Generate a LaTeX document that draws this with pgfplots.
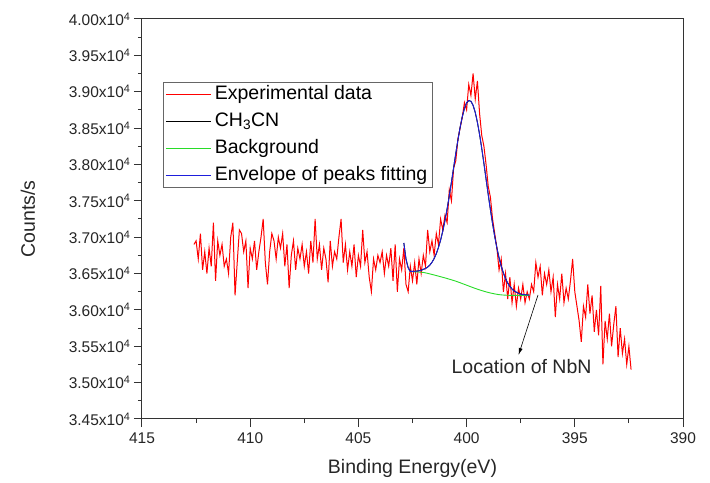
\documentclass[border=0pt]{standalone}
\usepackage{fontspec}
\setmainfont{Liberation Sans}
\usepackage{pgfplots}
\usepackage{pgfplotstable}
\pgfplotsset{compat=1.18}
\usetikzlibrary{arrows.meta}

\definecolor{expred}{RGB}{255,0,0}
\definecolor{bggreen}{RGB}{40,220,40}
\definecolor{envblue}{RGB}{30,30,220}

\pgfplotstableread{
x y
412.6 36900
412.5 36950
412.4 36700
412.3 37050
412.2 36550
412.1 36800
412.0 36500
411.9 36850
411.8 36600
411.7 37200
411.6 36400
411.5 36950
411.4 36750
411.3 36900
411.2 36600
411.1 36700
411.0 36500
410.9 37000
410.8 37200
410.7 36200
410.6 36650
410.5 37100
410.4 37050
410.3 36800
410.2 36950
410.1 36300
410.0 36850
409.9 36700
409.8 36950
409.7 36550
409.6 36800
409.5 37000
409.4 37250
409.3 36650
409.2 36350
409.1 36800
409.0 37050
408.9 36950
408.8 36700
408.7 37000
408.6 36850
408.5 37050
408.4 36600
408.3 36900
408.2 36300
408.1 36750
408.0 36950
407.9 36550
407.8 36850
407.7 36700
407.6 36900
407.5 36600
407.4 36800
407.3 36500
407.2 36950
407.1 36650
407.0 37250
406.9 36700
406.8 36900
406.7 36550
406.6 36850
406.5 36700
406.4 36380
406.3 36950
406.2 36600
406.1 36800
406.0 36700
405.9 37000
405.8 37250
405.7 36650
405.6 36900
405.5 36550
405.4 36800
405.3 36600
405.2 36900
405.1 36450
405.0 36750
404.9 36600
404.8 37100
404.7 36650
404.6 36800
404.5 36450
404.4 36250
404.3 36700
404.2 36550
404.1 36750
404.0 36650
403.9 36800
403.8 36500
403.7 36750
403.6 36600
403.5 36850
403.4 36400
403.3 36900
403.2 36250
403.1 36700
403.0 36550
402.9 36850
402.8 36350
402.7 36250
402.6 36600
402.5 36400
402.4 36650
402.3 36350
402.2 36700
402.1 36500
402.0 36750
401.9 36600
401.8 37100
401.7 36800
401.6 36950
401.5 36750
401.4 37050
401.3 36900
401.2 37250
401.1 37100
401.0 37300
400.9 37200
400.8 37650
400.7 37500
400.6 37950
400.5 38050
400.4 38350
400.3 38500
400.2 38650
400.1 38850
400.0 38750
399.9 39100
399.8 38950
399.7 39250
399.6 38900
399.5 39150
399.4 38700
399.3 38400
399.2 38250
399.1 38000
399.0 37700
398.9 37550
398.8 37250
398.7 37050
398.6 36850
398.5 36550
398.4 36700
398.3 36250
398.2 36500
398.1 36150
398.0 36450
397.9 36100
397.8 36350
397.7 36050
397.6 36300
397.5 36150
397.4 36350
397.3 36100
397.2 36250
397.1 36150
397.0 36350
396.9 36250
396.8 36650
396.7 36450
396.6 36600
396.5 36200
396.4 36500
396.3 36350
396.2 36550
396.1 36250
396.0 36450
395.9 35900
395.8 36350
395.7 36150
395.6 36500
395.5 36100
395.4 36300
395.3 36150
395.2 36400
395.1 36700
395.0 36250
394.9 36050
394.8 35850
394.7 35560
394.6 36050
394.5 35900
394.4 36350
394.3 35950
394.2 36200
394.1 35700
394.0 36000
393.9 35650
393.8 36330
393.7 35250
393.6 35850
393.5 35600
393.4 35950
393.3 35500
393.2 35800
393.1 36050
393.0 35350
392.9 35750
392.8 35400
392.7 35600
392.6 35250
392.5 35500
392.4 35180
}\expdata

\pgfplotstableread{
x y
402.9 36920
402.8 36700
402.7 36580
402.6 36530
402.5 36530
402.4 36531
402.3 36533
402.2 36538
402.1 36545
402.0 36558
401.9 36569
401.8 36588
401.7 36616
401.6 36655
401.5 36707
401.4 36774
401.3 36859
401.2 36962
401.1 37085
401.0 37229
400.9 37390
400.8 37568
400.7 37758
400.6 37954
400.5 38151
400.4 38337
400.3 38509
400.2 38654
400.1 38769
400.0 38845
399.9 38879
399.8 38868
399.7 38812
399.6 38714
399.5 38577
399.4 38412
399.3 38220
399.2 38014
399.1 37799
399.0 37585
398.9 37380
398.8 37187
398.7 37011
398.6 36853
398.5 36716
398.4 36603
398.3 36508
398.2 36431
398.1 36370
398.0 36322
397.9 36287
397.8 36261
397.7 36243
397.6 36228
397.5 36219
397.4 36212
397.3 36208
397.2 36205
397.1 36203
}\envdata

\pgfplotstableread{
x y
402.6 36527
402.5 36525
402.0 36515
401.5 36480
401.0 36440
400.5 36395
400.0 36340
399.5 36285
399.0 36240
398.5 36210
398.0 36200
397.5 36200
397.1 36200
}\bgdata

\begin{document}
\begin{tikzpicture}
\begin{axis}[
  scale only axis,
  width=541pt, height=400pt,
  x dir=reverse,
  xmin=390, xmax=415,
  ymin=34500, ymax=40000,
  axis line style={black!80, line width=1pt},
  tick style={black!80, line width=1pt},
  tick align=outside,
  xtick pos=left, ytick pos=left,
  major tick length=8pt, minor tick length=4pt,
  xtick={390,395,400,405,410,415},
  xticklabels={390,395,400,405,410,415},
  minor x tick num=1,
  ytick={34500,35000,35500,36000,36500,37000,37500,38000,38500,39000,39500,40000},
  yticklabels={3.45x10\textsuperscript{4},3.50x10\textsuperscript{4},3.55x10\textsuperscript{4},3.60x10\textsuperscript{4},3.65x10\textsuperscript{4},3.70x10\textsuperscript{4},3.75x10\textsuperscript{4},3.80x10\textsuperscript{4},3.85x10\textsuperscript{4},3.90x10\textsuperscript{4},3.95x10\textsuperscript{4},4.00x10\textsuperscript{4}},
  minor y tick num=1,
  scaled y ticks=false,
  ticklabel style={font=\fontsize{15.5}{18}\selectfont, text=black!85},
  xticklabel style={yshift=-2pt},
  xlabel={Binding Energy(eV)},
  ylabel={Counts/s},
  label style={font=\fontsize{19.5}{22}\selectfont, text=black!85},
  xlabel style={at={(axis description cs:0.5,-0.1225)}, anchor=center},
  ylabel style={at={(axis description cs:-0.2107,0.5)}, anchor=center},
  legend cell align=left,
  legend image code/.code={\draw[#1] (0pt,0pt) -- (45pt,0pt);},
  legend style={at={(axis description cs:0.0388,0.8425)}, anchor=north west,
    draw=black!60, line width=0.8pt,
    font=\fontsize{19.5}{22}\selectfont,
    inner xsep=2pt, inner ysep=2.5pt, row sep=6.8pt,
    nodes={text height=14pt, text depth=4pt, inner ysep=1pt, inner xsep=3.5pt}},
]
\addplot[expred, line width=1pt] table[x=x,y=y] {\expdata};
\addlegendentry{Experimental data}
\addplot[black, line width=0.9pt] table[x=x,y=y] {\envdata};
\addlegendentry{CH\textsubscript{3}CN}
\addplot[bggreen, line width=0.9pt, smooth] table[x=x,y=y] {\bgdata};
\addlegendentry{Background}
\addplot[envblue, line width=0.9pt, smooth] table[x=x,y=y] {\envdata};
\addlegendentry{Envelope of peaks fitting}
\draw[black, line width=0.6pt, -{Latex[length=7pt,width=4pt]}] (axis cs:396.7,36205) -- (axis cs:397.6,35380);
\node[font=\fontsize{19.5}{22}\selectfont, text=black!85] at (axis cs:397.46,35215) {Location of NbN};
\end{axis}
\pgfresetboundingbox
\path[use as bounding box] (current axis.south west) ++(-142pt,-64pt) rectangle ([shift={(27pt,19pt)}]current axis.north east);
\end{tikzpicture}
\end{document}
